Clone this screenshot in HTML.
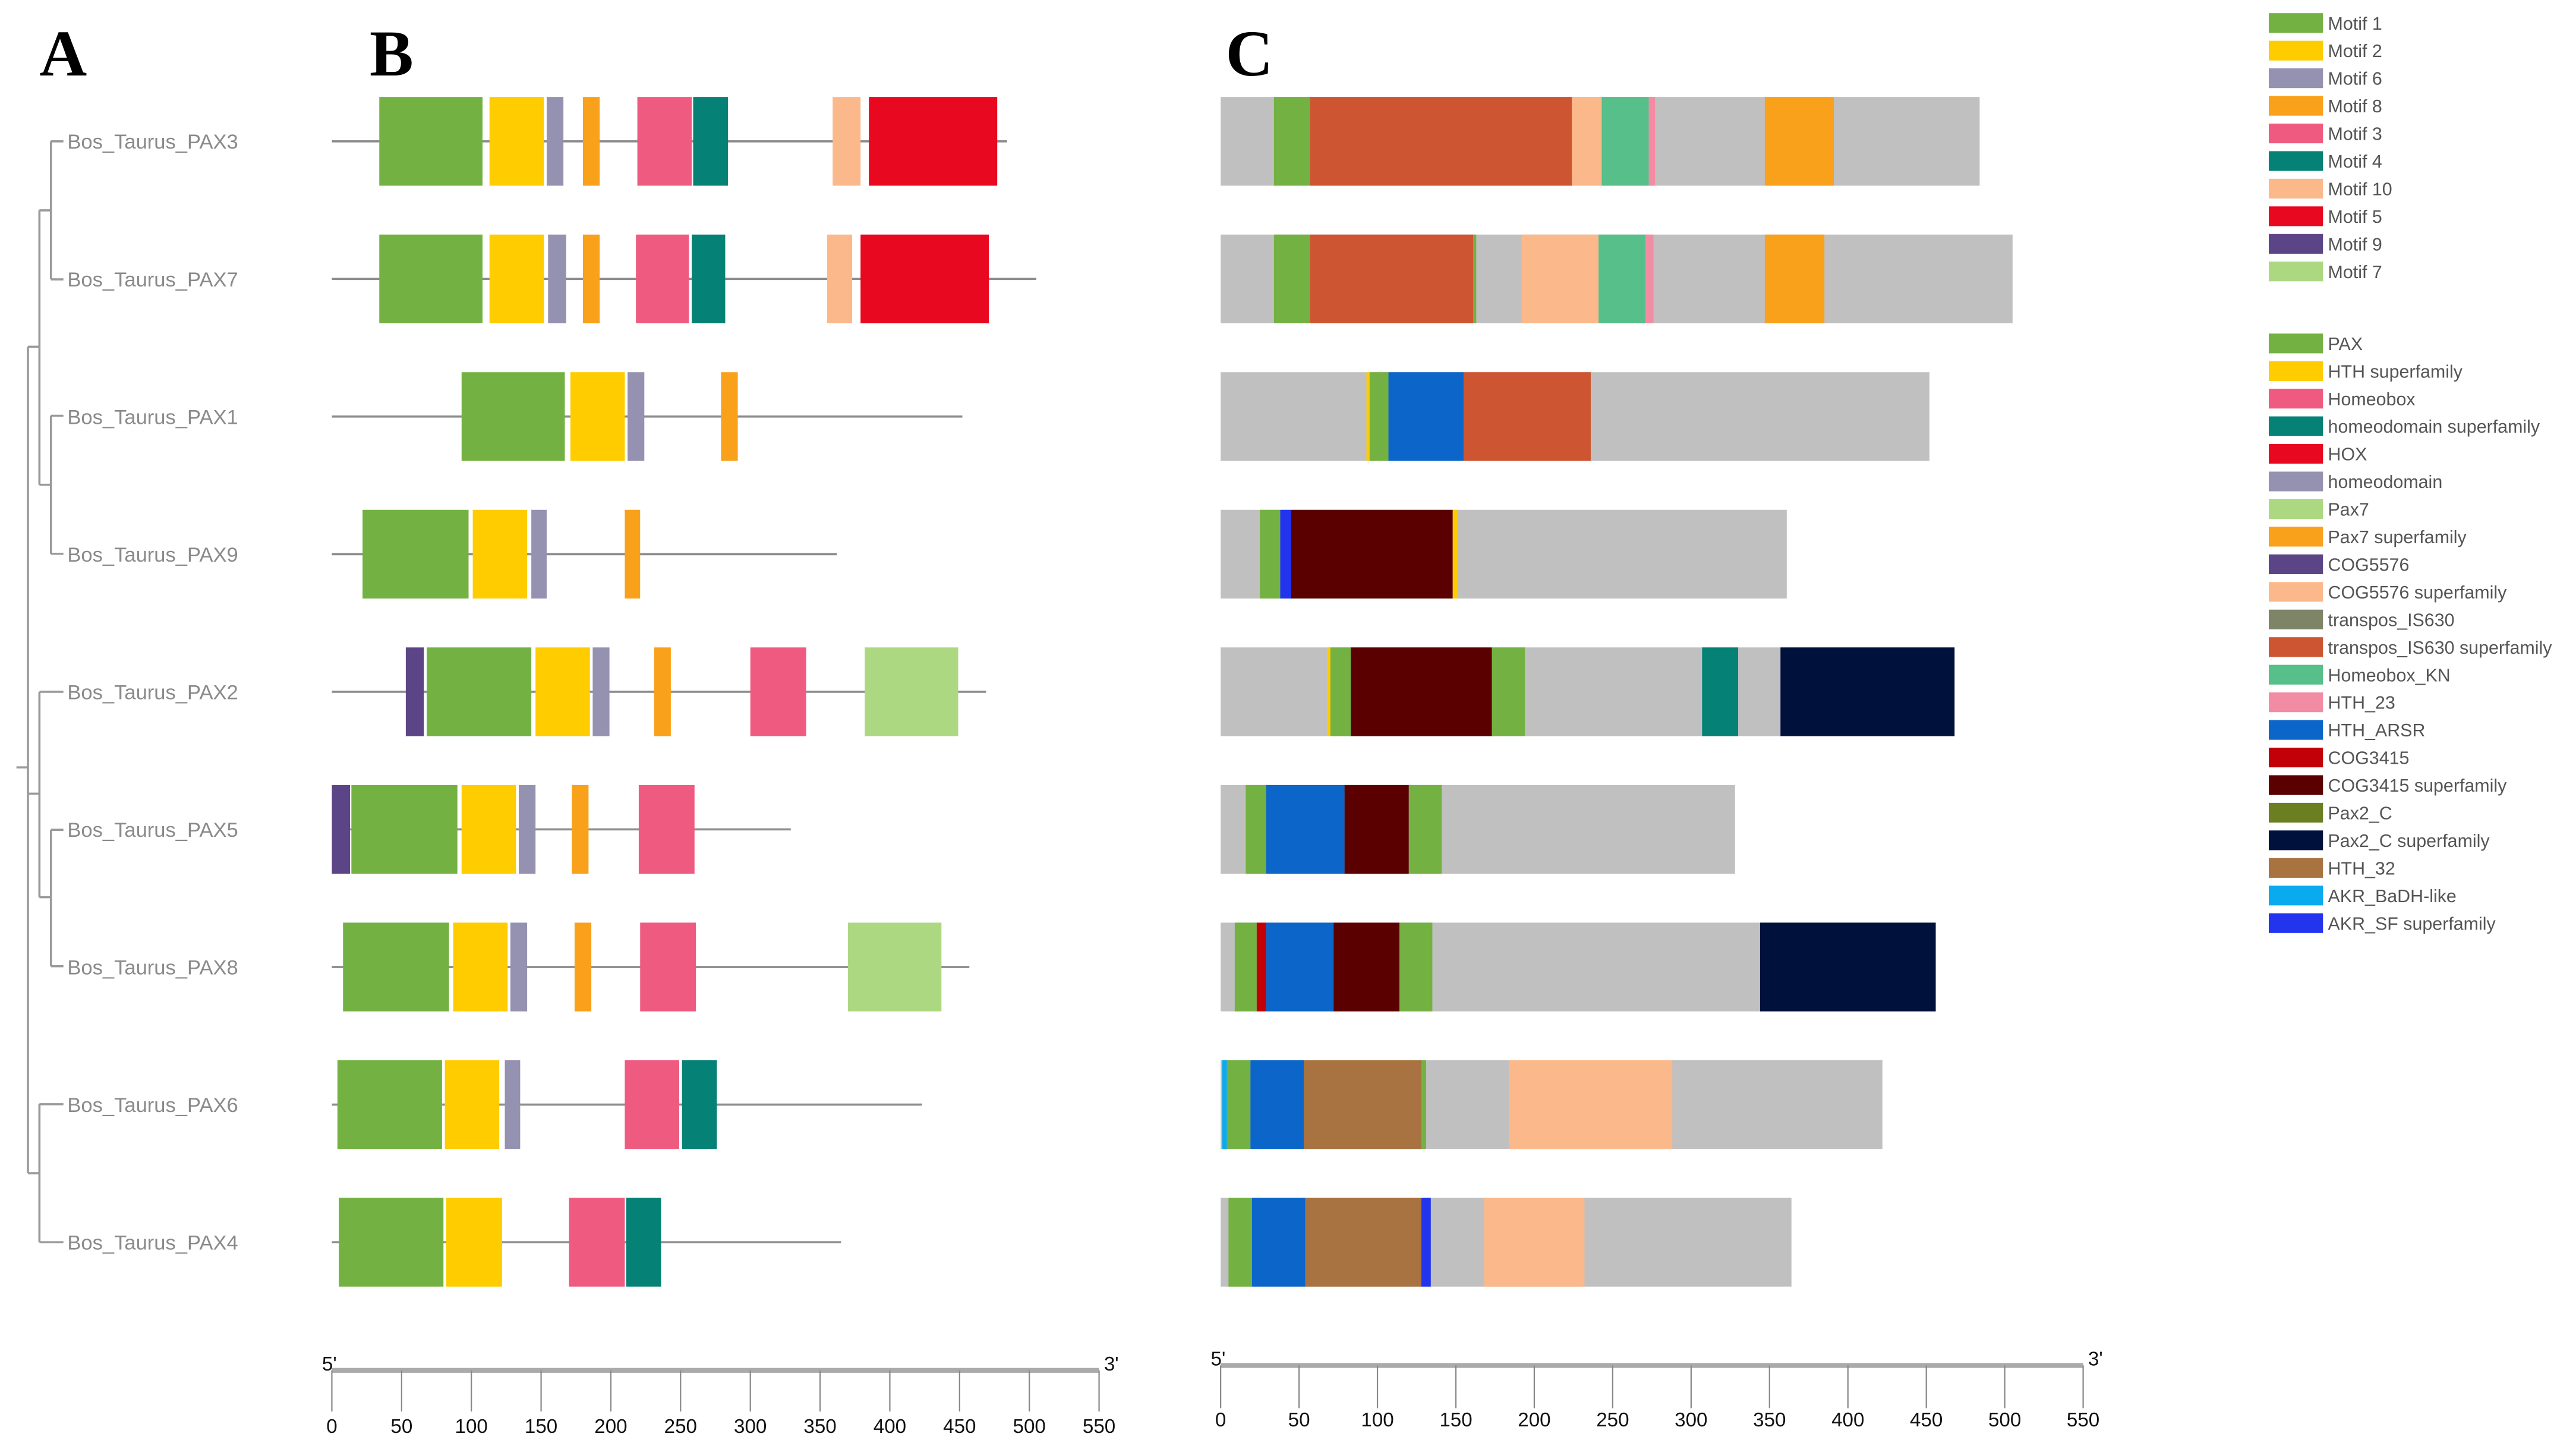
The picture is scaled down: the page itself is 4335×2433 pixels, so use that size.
<!DOCTYPE html>
<html><head><meta charset="utf-8"><style>html,body{margin:0;padding:0;background:#fff}svg{display:block}text{font-family:"Liberation Sans",sans-serif}</style></head>
<body>
<svg id="fig" xmlns="http://www.w3.org/2000/svg" width="4335" height="2433" viewBox="0 0 1568 880">
<g font-family="Liberation Serif" font-weight="bold" font-size="40">
<text x="24" y="46" style="font-family:'Liberation Serif',serif">A</text>
<text x="225" y="46" style="font-family:'Liberation Serif',serif">B</text>
<text x="746" y="46" style="font-family:'Liberation Serif',serif">C</text>
</g>
<g id="tree" stroke="#999" stroke-width="1.3" fill="none"></g>
<g id="motifs"></g>
<g id="domains"></g>
<g id="axes"></g>
<g id="legend"></g>
</svg>
<script>
const genes = ["PAX3","PAX7","PAX1","PAX9","PAX2","PAX5","PAX8","PAX6","PAX4"];
const proteinLengths = [484,505,452,362,469,329,457,423,365];
const motifNames = ["Motif 1","Motif 2","Motif 6","Motif 8","Motif 3","Motif 4","Motif 10","Motif 5","Motif 9","Motif 7"];
const motifColors = ["#74b143","#ffcc00","#9591b1","#f9a11b","#ef5b80","#068176","#fbb98b","#e8081f","#5b4586","#add882"];
const motifsPAX3 = [["Motif 1",34,108],["Motif 2",113,152],["Motif 6",154,166],["Motif 8",180,192],["Motif 3",219,258],["Motif 4",259,284],["Motif 10",359,379],["Motif 5",385,477]];
const motifsPAX7 = [["Motif 1",34,108],["Motif 2",113,152],["Motif 6",155,168],["Motif 8",180,192],["Motif 3",218,256],["Motif 4",258,282],["Motif 10",355,373],["Motif 5",379,471]];
const motifsPAX1 = [["Motif 1",93,167],["Motif 2",171,210],["Motif 6",212,224],["Motif 8",279,291]];
const motifsPAX9 = [["Motif 1",22,98],["Motif 2",101,140],["Motif 6",143,154],["Motif 8",210,221]];
const motifsPAX2 = [["Motif 9",53,66],["Motif 1",68,143],["Motif 2",146,185],["Motif 6",187,199],["Motif 8",231,243],["Motif 3",300,340],["Motif 7",382,449]];
const motifsPAX5 = [["Motif 9",0,13],["Motif 1",14,90],["Motif 2",93,132],["Motif 6",134,146],["Motif 8",172,184],["Motif 3",220,260]];
const motifsPAX8 = [["Motif 1",8,84],["Motif 2",87,126],["Motif 6",128,140],["Motif 8",174,186],["Motif 3",221,261],["Motif 7",370,437]];
const motifsPAX6 = [["Motif 1",4,79],["Motif 2",81,120],["Motif 6",124,135],["Motif 3",210,249],["Motif 4",251,276]];
const motifsPAX4 = [["Motif 1",5,80],["Motif 2",82,122],["Motif 3",170,210],["Motif 4",211,236]];
const domainNames = ["PAX","HTH superfamily","Homeobox","homeodomain superfamily","HOX","homeodomain","Pax7","Pax7 superfamily","COG5576","COG5576 superfamily","transpos_IS630","transpos_IS630 superfamily","Homeobox_KN","HTH_23","HTH_ARSR","COG3415","COG3415 superfamily","Pax2_C","Pax2_C superfamily","HTH_32","AKR_BaDH-like","AKR_SF superfamily"];
const domainColors = ["#74b143","#ffcc00","#ef5b80","#068176","#e8081f","#9591b1","#add882","#f9a11b","#5b4586","#fbb98b","#7e8466","#cd5532","#57bf8a","#f28ca4","#0c66c9","#c10007","#5b0000","#6b7f22","#00123c","#a87340","#0aaaee","#2234ee"];
const domainLengths = [484,505,452,361,468,328,456,422,364];
const domainsPAX3 = [["PAX",34,57],["transpos_IS630 superfamily",57,224],["COG5576 superfamily",224,243],["Homeobox_KN",243,273],["HTH_23",273,277],["Pax7 superfamily",347,391]];
const domainsPAX7 = [["PAX",34,57],["transpos_IS630 superfamily",57,161],["PAX",161,163],["COG5576 superfamily",192,241],["Homeobox_KN",241,271],["HTH_23",271,276],["Pax7 superfamily",347,385]];
const domainsPAX1 = [["HTH superfamily",93,95],["PAX",95,107],["HTH_ARSR",107,155],["transpos_IS630 superfamily",155,236]];
const domainsPAX9 = [["PAX",25,38],["AKR_SF superfamily",38,45],["COG3415 superfamily",45,148],["HTH superfamily",148,151]];
const domainsPAX2 = [["HTH superfamily",68,70],["PAX",70,83],["COG3415 superfamily",83,173],["PAX",173,194],["homeodomain superfamily",307,330],["Pax2_C superfamily",357,468]];
const domainsPAX5 = [["PAX",16,29],["HTH_ARSR",29,79],["COG3415 superfamily",79,120],["PAX",120,141]];
const domainsPAX8 = [["PAX",9,23],["COG3415",23,29],["HTH_ARSR",29,72],["COG3415 superfamily",72,114],["PAX",114,135],["Pax2_C superfamily",344,456]];
const domainsPAX6 = [["AKR_BaDH-like",1,4],["PAX",4,19],["HTH_ARSR",19,53],["HTH_32",53,128],["PAX",128,131],["COG5576 superfamily",184,288]];
const domainsPAX4 = [["PAX",5,20],["HTH_ARSR",20,54],["HTH_32",54,128],["AKR_SF superfamily",128,134],["COG5576 superfamily",168,232]];
const axisTicks = [0,50,100,150,200,250,300,350,400,450,500,550];

const motifSets=[motifsPAX3,motifsPAX7,motifsPAX1,motifsPAX9,motifsPAX2,motifsPAX5,motifsPAX8,motifsPAX6,motifsPAX4];
const domainSets=[domainsPAX3,domainsPAX7,domainsPAX1,domainsPAX9,domainsPAX2,domainsPAX5,domainsPAX8,domainsPAX6,domainsPAX4];
const NS="http://www.w3.org/2000/svg";
function mk(parent,tag,attrs,txt){const e=document.createElementNS(NS,tag);for(const k in attrs)e.setAttribute(k,attrs[k]);if(txt!==undefined)e.textContent=txt;parent.appendChild(e);return e;}
const xB=v=>202+v*467/550, xC=v=>743+v*525/550;
const rowY=i=>86+i*83.75;
const H=54;

const tree=document.getElementById('tree');
const segs=[[31,86,31,170],[31,86,38.6,86],[31,170,38.6,170],[24,128,31,128],
[31,253,31,337],[31,253,38.6,253],[31,337,38.6,337],[24,295,31,295],
[24,128,24,295],[17,211,24,211],
[24,421,24,546],[24,421,38.6,421],[31,505,31,588],[31,505,38.6,505],[31,588,38.6,588],[24,546,31,546],[17,483,24,483],
[24,672,24,756],[24,672,38.6,672],[24,756,38.6,756],[17,714,24,714],
[17,211,17,714],[10,467,17,467]];
segs.forEach(s=>{const l=mk(tree,'line',{x1:s[0],y1:s[1],x2:s[2],y2:s[3]});

});
genes.forEach((g,i)=>{const t=mk(tree,'text',{x:41,y:rowY(i)+4.5,'font-size':12.5,fill:'#8a8a8a',stroke:'none'},'Bos_Taurus_'+g);

});

const mg=document.getElementById('motifs');
genes.forEach((g,i)=>{const y=rowY(i);
const l=mk(mg,'line',{x1:xB(0),y1:y,x2:xB(proteinLengths[i]),y2:y,stroke:'#8c8c8c','stroke-width':1.3});


motifSets[i].forEach(m=>{const r=mk(mg,'rect',{x:xB(m[1]),y:y-H/2,width:xB(m[2])-xB(m[1]),height:H,fill:motifColors[motifNames.indexOf(m[0])]});

});});

const dg=document.getElementById('domains');
genes.forEach((g,i)=>{const y=rowY(i);
const b=mk(dg,'rect',{x:xC(0),y:y-H/2,width:xC(domainLengths[i])-xC(0),height:H,fill:'#c0c0c0'});


domainSets[i].forEach(d=>{const r=mk(dg,'rect',{x:xC(d[1]),y:y-H/2,width:xC(d[2])-xC(d[1]),height:H,fill:domainColors[domainNames.indexOf(d[0])]});

});});

const ax=document.getElementById('axes');
function axis(fx,ay,tickBottom,labelY,nm){
const l=mk(ax,'line',{x1:fx(0),y1:ay,x2:fx(550),y2:ay,stroke:'#aaa','stroke-width':3});


axisTicks.forEach(t=>{const k=mk(ax,'line',{x1:fx(t),y1:ay,x2:fx(t),y2:tickBottom,stroke:'#888','stroke-width':0.8});


const tx=mk(ax,'text',{x:fx(t),y:labelY,'font-size':12,'text-anchor':'middle',fill:'#111'},String(t));

});
const a=mk(ax,'text',{x:fx(0)-6,y:ay,'font-size':12,fill:'#111'},"5'");


const b=mk(ax,'text',{x:fx(550)+3,y:ay,'font-size':12,fill:'#111'},"3'");

}
axis(xB,834,859,872,'motif');
axis(xC,831,857,868,'domain');

const lg=document.getElementById('legend');
function legend(names,colors,y0,step,nm){names.forEach((n,i)=>{const y=y0+i*step;
const r=mk(lg,'rect',{x:1381,y:y-6,width:33,height:12,fill:colors[i]});


const t=mk(lg,'text',{x:1417,y:y+4,'font-size':11,fill:'#555'},n);

});}
legend(motifNames,motifColors,14,16.8,'motif');
legend(domainNames,domainColors,209,16.8,'domain');
</script>
</body></html>
